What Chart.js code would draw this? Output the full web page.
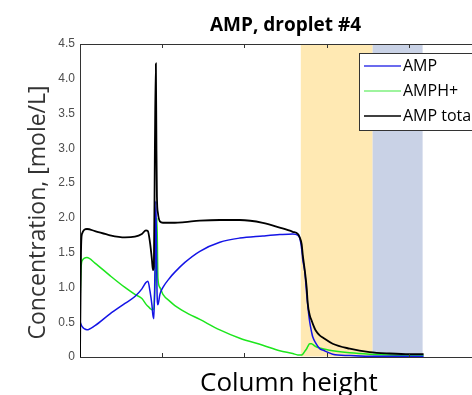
<!DOCTYPE html>
<html>
<head>
<meta charset="utf-8">
<script src="https://cdn.jsdelivr.net/npm/chart.js@4.4.1/dist/chart.umd.min.js"></script>
<style>
  html, body { margin: 0; padding: 0; background: #fff; overflow: hidden; }
  #wrap { position: absolute; left: 0; top: 0; width: 572px; height: 395px; }
</style>
</head>
<body>
<div id="wrap"><canvas id="amp-chart" width="572" height="395"></canvas></div>
<script>
  // column height (axis units 0..5) and concentrations
  var heightX = [0, 0.012, 0.024, 0.085, 0.182, 0.365, 0.547, 0.668, 0.753, 0.802, 0.826, 0.851,
    0.875, 0.887, 0.899, 0.911, 0.923, 0.930, 0.936, 0.948, 0.972, 1.009, 1.094, 1.154, 1.276,
    1.458, 1.701, 1.944, 2.224, 2.430, 2.588, 2.649, 2.673, 2.697, 2.710, 2.734, 2.758, 2.770,
    2.795, 2.819, 2.831, 2.868, 2.916, 2.953, 3.074, 3.281, 3.524, 3.767, 4.010, 4.180];
  var ampConc = [0.51, 0.47, 0.44, 0.39, 0.45, 0.62, 0.77, 0.87, 0.98, 1.07, 1.09, 0.95,
    0.75, 0.60, 0.55, 1.20, 2.24, 1.60, 1.00, 0.75, 0.90, 1.00, 1.14, 1.22, 1.36,
    1.52, 1.65, 1.71, 1.74, 1.76, 1.77, 1.75, 1.71, 1.55, 1.40, 1.23, 0.90, 0.75,
    0.50, 0.35, 0.29, 0.20, 0.12, 0.10, 0.04, 0.02, 0.01, 0.01, 0.01, 0.01];
  var amphConc = [0.77, 1.25, 1.38, 1.43, 1.35, 1.17, 1.00, 0.90, 0.84, 0.76, 0.73, 0.70,
    0.68, 0.68, 0.70, 1.00, 1.33, 1.70, 2.00, 1.13, 1.00, 0.90, 0.80, 0.74, 0.65,
    0.54, 0.39, 0.27, 0.17, 0.09, 0.05, 0.03, 0.03, 0.03, 0.04, 0.08, 0.12, 0.15,
    0.19, 0.19, 0.18, 0.15, 0.13, 0.12, 0.09, 0.06, 0.04, 0.03, 0.02, 0.02];
  var ampTotal = [0, 1.50, 1.77, 1.84, 1.81, 1.75, 1.72, 1.73, 1.77, 1.82, 1.81, 1.65,
    1.40, 1.25, 1.30, 3.00, 4.22, 3.00, 2.30, 2.07, 1.95, 1.93, 1.93, 1.93, 1.94,
    1.96, 1.97, 1.97, 1.93, 1.86, 1.80, 1.77, 1.72, 1.62, 1.47, 1.25, 0.99, 0.78,
    0.60, 0.52, 0.48, 0.38, 0.31, 0.28, 0.19, 0.12, 0.07, 0.05, 0.04, 0.04];
  var seriesNames = ['AMP', 'AMPH+', 'AMP total'];
  var seriesColors = ['#1414e6', '#1de61d', '#000000'];
  var legendColors = ['#3a3ae8', '#7ef07e', '#000000'];
  var chartTitle = 'AMP, droplet #4';
  // shaded zones along the column
  var bandStart = [2.686, 3.560];
  var bandEnd = [3.560, 4.168];
  var bandColors = ['#ffe9b3', '#c9d2e6'];
  var xTicks = [1, 2, 3, 4];

  function points(values) {
    return heightX.map((x, i) => ({ x: x, y: values[i] }));
  }

  var bandsPlugin = {
    id: 'bands',
    beforeDatasetsDraw(chart) {
      var ctx = chart.ctx, area = chart.chartArea, xs = chart.scales.x;
      ctx.save();
      bandStart.forEach((start, i) => {
        var x0 = xs.getPixelForValue(start), x1 = xs.getPixelForValue(bandEnd[i]);
        ctx.fillStyle = bandColors[i];
        ctx.fillRect(x0, area.top + 1, x1 - x0, area.bottom - area.top - 1.5);
      });
      ctx.restore();
    }
  };

  // top border, inward x ticks and a title centred over the plot area
  var framePlugin = {
    id: 'frame',
    afterDatasetsDraw(chart) {
      var ctx = chart.ctx, area = chart.chartArea, xs = chart.scales.x;
      ctx.save();
      ctx.strokeStyle = '#333';
      ctx.lineWidth = 1;
      ctx.beginPath();
      ctx.moveTo(area.left, area.top + 0.5);
      ctx.lineTo(area.right, area.top + 0.5);
      xTicks.forEach((t) => {
        var px = Math.round(xs.getPixelForValue(t)) + 0.5;
        ctx.moveTo(px, area.top);
        ctx.lineTo(px, area.top + 4);
        ctx.moveTo(px, area.bottom);
        ctx.lineTo(px, area.bottom - 4);
      });
      ctx.stroke();
      ctx.fillStyle = '#000';
      ctx.font = 'bold 19px "Open Sans"';
      ctx.textAlign = 'center';
      ctx.textBaseline = 'alphabetic';
      ctx.fillText(chartTitle, (area.left + area.right) / 2, 31);
      ctx.restore();
    }
  };

  var legendPlugin = {
    id: 'boxLegend',
    afterDraw(chart) {
      var ctx = chart.ctx, area = chart.chartArea;
      var left = 359, top = area.top + 9, right = area.right - 9, bottom = 130;
      ctx.save();
      ctx.fillStyle = '#fff';
      ctx.fillRect(left, top, right - left, bottom - top);
      ctx.strokeStyle = '#333';
      ctx.lineWidth = 1;
      ctx.strokeRect(left + 0.5, top + 0.5, right - left, bottom - top);
      ctx.font = '16px "Open Sans"';
      ctx.textBaseline = 'middle';
      seriesNames.forEach((name, i) => {
        var y = 66 + i * 25;
        ctx.strokeStyle = legendColors[i];
        ctx.lineWidth = 1.5;
        ctx.beginPath();
        ctx.moveTo(364, y);
        ctx.lineTo(401, y);
        ctx.stroke();
        ctx.fillStyle = '#000';
        ctx.fillText(name, 403, y);
      });
      ctx.restore();
    }
  };

  var config = {
    type: 'line',
    data: {
      datasets: [
        { label: seriesNames[0], data: points(ampConc), borderColor: seriesColors[0], order: 1 },
        { label: seriesNames[1], data: points(amphConc), borderColor: seriesColors[1], order: 2 },
        { label: seriesNames[2], data: points(ampTotal), borderColor: seriesColors[2], order: 0, borderWidth: 1.8 }
      ]
    },
    options: {
      responsive: false,
      animation: false,
      borderWidth: 1.5,
      pointRadius: 0,
      cubicInterpolationMode: 'monotone',
      layout: { padding: { left: 0, right: 81, top: 44, bottom: 0 } },
      scales: {
        x: {
          type: 'linear',
          min: 0,
          max: 5,
          grid: { display: false, drawTicks: false },
          border: { display: true, color: '#333' },
          ticks: { display: false },
          title: {
            display: true,
            text: '\u00a0Column height',
            color: '#000',
            font: { family: 'Open Sans', size: 26 },
            padding: { top: 0, bottom: -4 }
          },
          afterFit: (scale) => { scale.height = 38; }
        },
        y: {
          min: 0,
          max: 4.5,
          grid: { display: false, drawTicks: false },
          border: { display: true, color: '#333' },
          ticks: {
            stepSize: 0.5,
            padding: 5,
            color: '#4d4d4d',
            font: { family: 'Liberation Sans', size: 12 }
          },
          title: {
            display: true,
            // trailing spaces push the rotated label down a little, as in the original
            text: 'Concentration, [mole/L]\u00a0\u00a0\u00a0\u00a0',
            color: '#333',
            font: { family: 'Open Sans', size: 23 },
            padding: { top: 25, bottom: 0 }
          },
          afterFit: (scale) => { scale.width = 80; }
        }
      },
      plugins: {
        legend: { display: false },
        tooltip: { enabled: false },
        title: { display: false }
      }
    },
    plugins: [bandsPlugin, framePlugin, legendPlugin]
  };
  new Chart(document.getElementById('amp-chart'), config);
</script>
</body>
</html>
